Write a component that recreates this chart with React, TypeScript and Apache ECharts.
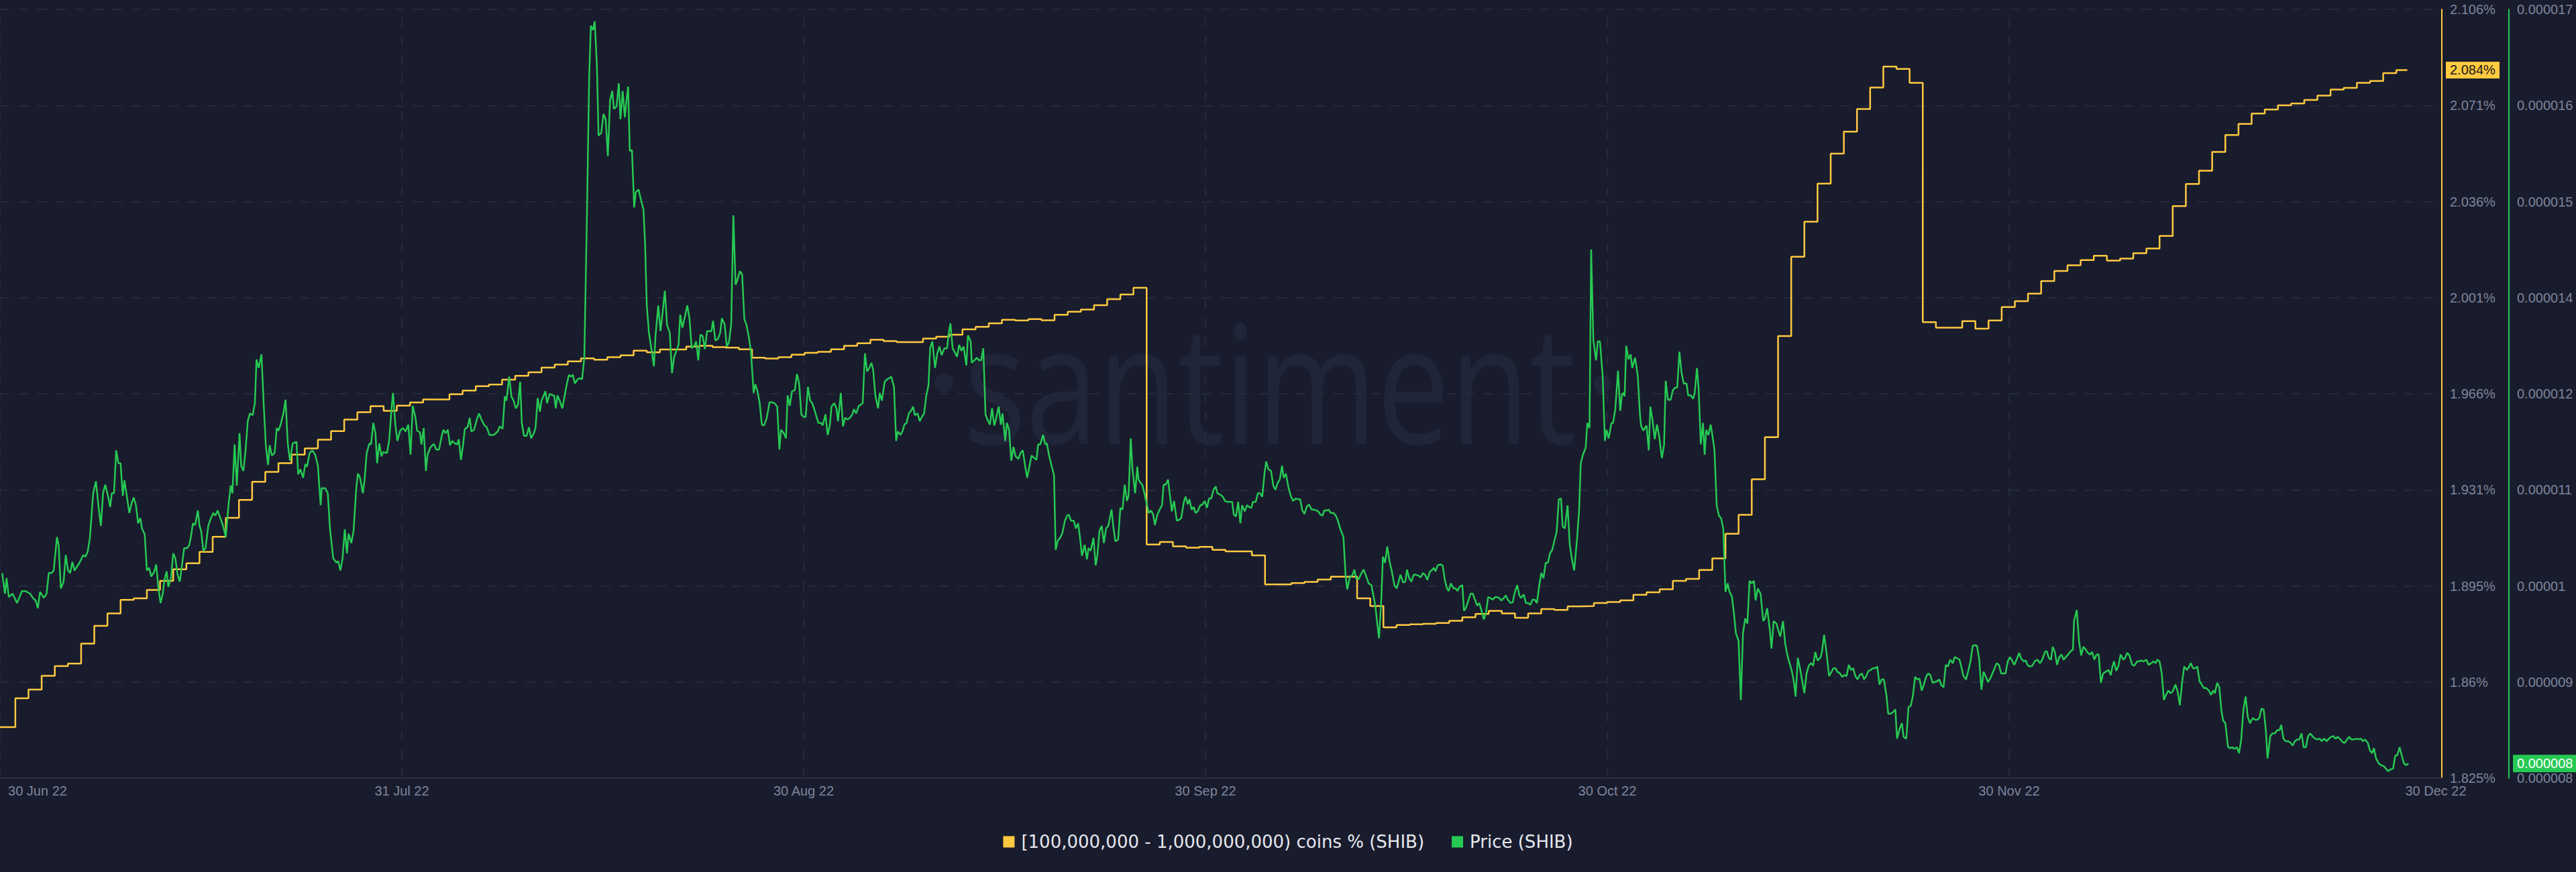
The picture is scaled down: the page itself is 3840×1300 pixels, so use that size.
import React, { useEffect, useRef } from "react";
import * as echarts from "echarts";

const CHART_W = 3840;
const CHART_H = 1300;

// x axis: hours since the start of 30 Jun 22
const DATE_LABELS = ["30 Jun 22", "31 Jul 22", "30 Aug 22", "30 Sep 22", "30 Oct 22", "30 Nov 22", "30 Dec 22"];
const X_AXIS_END_HOUR = 4455;
const DATE_LABEL_STEP_HOURS = 733.1;

// y axis tick labels (left = holdings %, right = price USD)
const HOLDING_TICK_LABELS = ["1.825", "1.86", "1.895", "1.931", "1.966", "2.001", "2.036", "2.071", "2.106"];
const PRICE_TICK_LABELS = ["0.000008", "0.000009", "0.00001", "0.000011", "0.000012", "0.000014", "0.000015", "0.000016", "0.000017"];
const HOLDING_AXIS_MIN = 1.825252;
const HOLDING_AXIS_STEP = 0.035101;
const PRICE_AXIS_MIN = 7.99; // micro USD
const PRICE_AXIS_STEP = 1.12; // micro USD

// [100,000,000 - 1,000,000,000) coins % — one value per day
const HOLDING_FIRST_UPDATE_HOUR = 28;
const HOLDING_END_HOUR = 4392;
const HOLDING_PCT = [
  1.8439, 1.8544, 1.8576, 1.8626, 1.8662, 1.8671, 1.8744, 1.8809, 1.8854, 1.8904,
  1.8909, 1.894, 1.8973, 1.9015, 1.9037, 1.9079, 1.9134, 1.9203, 1.9269, 1.9335,
  1.9371, 1.9403, 1.9434, 1.9457, 1.9489, 1.952, 1.9562, 1.9589, 1.9611, 1.9594,
  1.9613, 1.9625, 1.9636, 1.9636, 1.9655, 1.9668, 1.9684, 1.969, 1.9708, 1.9722,
  1.9735, 1.9752, 1.9763, 1.9775, 1.9786, 1.9781, 1.979, 1.9797, 1.9814, 1.9808,
  1.9818, 1.9818, 1.9829, 1.9832, 1.9827, 1.9825, 1.9819, 1.9788, 1.9785, 1.979,
  1.9799, 1.9806, 1.981, 1.9819, 1.9832, 1.9841, 1.9854, 1.9849, 1.9845, 1.9845,
  1.9858, 1.9865, 1.9872, 1.9892, 1.9901, 1.9914, 1.9927, 1.9924, 1.9929, 1.9925,
  1.9945, 1.9956, 1.9964, 1.998, 2.0002, 2.0019, 2.0044, 1.9106, 1.9115, 1.9099,
  1.9094, 1.9097, 1.9086, 1.9081, 1.9081, 1.9066, 1.896, 1.896, 1.8965, 1.8969,
  1.8978, 1.8988, 1.8988, 1.8909, 1.8881, 1.8803, 1.8812, 1.8814, 1.8816, 1.8819,
  1.8827, 1.884, 1.8852, 1.8863, 1.8854, 1.8838, 1.8854, 1.887, 1.8867, 1.888,
  1.8881, 1.8892, 1.8896, 1.8902, 1.8922, 1.8931, 1.8942, 1.8973, 1.898, 1.9013,
  1.9055, 1.9145, 1.9214, 1.9344, 1.9498, 1.9867, 2.0157, 2.0285, 2.0424, 2.0534,
  2.0614, 2.0697, 2.0775, 2.0852, 2.0843, 2.0792, 1.9918, 1.9898, 1.9898, 1.9922,
  1.9894, 1.9924, 1.9973, 1.9995, 2.0022, 2.0068, 2.0105, 2.0126, 2.0145, 2.0161,
  2.0143, 2.015, 2.017, 2.0187, 2.0233, 2.0342, 2.0423, 2.0471, 2.054, 2.0602,
  2.0642, 2.068, 2.0695, 2.071, 2.0717, 2.073, 2.0746, 2.0768, 2.0774, 2.0792,
  2.0799, 2.0828, 2.0839,
];

// Price (SHIB) in micro USD: [hour, price]
const PRICE_MICRO_USD: [number, number][] = [
  [4,10.38],[9,10.14],[12,10.32],[16,10.10],[23,10.14],[31,10.03],[35,10.09],[40,10.17],[46,10.17],[55,10.14],[60,10.09],[65,10.06],[69,9.97],[73,10.16],[80,10.09],[85,10.14],[89,10.38],[94,10.38],[98,10.41],[104,10.80],[107,10.70],[111,10.20],[116,10.28],[120,10.59],[124,10.41],[128,10.38],[132,10.51],[136,10.41],[145,10.50],[152,10.59],[156,10.57],[160,10.63],[164,10.79],[167,11.05],[170,11.31],[175,11.45],[180,11.14],[184,10.93],[188,11.31],[192,11.41],[197,11.28],[201,11.15],[204,11.31],[208,11.31],[212,11.81],[216,11.66],[220,11.66],[224,11.28],[227,11.46],[232,11.25],[236,11.08],[240,11.19],[244,11.26],[248,11.17],[252,10.96],[256,11.02],[259,10.90],[264,10.83],[268,10.41],[272,10.44],[276,10.34],[281,10.39],[285,10.48],[289,10.20],[293,10.03],[297,10.14],[300,10.30],[304,10.40],[307,10.22],[312,10.32],[316,10.61],[320,10.55],[324,10.36],[328,10.28],[333,10.52],[336,10.67],[341,10.67],[345,10.70],[348,10.79],[352,10.96],[356,10.94],[361,11.11],[364,10.93],[367,10.87],[371,10.64],[375,10.67],[380,10.93],[383,10.99],[389,11.08],[393,11.05],[397,11.11],[402,11.02],[407,10.93],[412,10.80],[417,11.18],[421,11.40],[424,11.31],[428,11.88],[432,11.40],[437,12.01],[440,11.63],[444,11.57],[448,11.81],[452,12.15],[456,12.24],[461,12.22],[465,12.36],[468,12.87],[472,12.77],[477,12.93],[481,12.36],[485,11.87],[489,11.64],[492,11.87],[496,11.75],[501,11.78],[505,12.07],[508,12.04],[512,12.11],[517,12.24],[521,12.40],[525,11.89],[529,11.69],[534,11.89],[541,11.91],[544,11.53],[548,11.59],[553,11.49],[557,11.65],[560,11.62],[565,11.78],[570,11.81],[575,11.76],[580,11.63],[585,11.17],[587,11.37],[593,11.37],[598,11.31],[602,10.90],[608,10.55],[614,10.50],[617,10.52],[621,10.41],[625,10.55],[629,10.89],[633,10.61],[636,10.84],[641,10.73],[645,10.87],[650,11.37],[653,11.54],[657,11.49],[662,11.31],[665,11.46],[669,11.78],[674,11.89],[677,11.88],[681,12.13],[685,12.01],[688,11.66],[692,11.89],[696,11.74],[699,11.79],[706,11.78],[710,11.92],[714,12.27],[717,12.48],[721,12.13],[725,11.92],[730,12.04],[735,12.07],[740,12.03],[745,12.11],[749,11.76],[753,12.33],
  [758,12.19],[761,12.04],[766,12.02],[769,11.88],[773,12.07],[777,11.57],[780,11.76],[785,11.84],[790,11.88],[792,11.88],[796,11.82],[801,11.82],[806,11.98],[809,12.05],[813,12.01],[817,12.05],[821,11.87],[825,11.92],[830,11.89],[834,11.88],[837,11.94],[841,11.70],[845,11.88],[848,12.06],[853,12.08],[857,12.19],[860,12.03],[865,12.05],[870,12.17],[874,12.24],[879,12.16],[884,12.10],[888,12.08],[893,11.99],[901,11.99],[908,12.03],[912,12.09],[917,12.06],[921,12.44],[924,12.39],[929,12.67],[933,12.44],[937,12.39],[941,12.30],[945,12.34],[949,12.61],[952,12.13],[956,11.98],[961,11.98],[965,12.08],[969,11.95],[974,12.01],[977,12.07],[981,12.42],[985,12.26],[988,12.39],[992,12.45],[995,12.50],[998,12.36],[1003,12.47],[1008,12.45],[1011,12.45],[1014,12.30],[1017,12.45],[1021,12.39],[1026,12.30],[1030,12.44],[1034,12.58],[1038,12.69],[1042,12.67],[1045,12.69],[1049,12.59],[1054,12.64],[1058,12.65],[1062,12.64],[1066,12.89],[1068,13.56],[1071,14.61],[1073,15.42],[1075,16.18],[1078,16.76],[1082,16.71],[1085,16.81],[1089,16.30],[1092,15.48],[1097,15.51],[1101,15.73],[1105,15.67],[1109,15.24],[1113,15.89],[1117,16.00],[1120,15.79],[1125,15.82],[1129,16.09],[1132,15.67],[1136,16.00],[1140,15.69],[1143,15.89],[1146,16.05],[1149,15.30],[1153,15.31],[1157,14.64],[1160,14.82],[1165,14.85],[1169,14.74],[1174,14.62],[1177,14.20],[1180,13.50],[1184,13.18],[1189,12.97],[1193,12.79],[1196,13.15],[1201,13.50],[1205,13.20],[1209,13.42],[1213,13.67],[1217,13.27],[1222,13.18],[1226,12.71],[1230,12.90],[1234,12.97],[1238,13.04],[1241,13.39],[1245,13.24],[1250,13.38],[1254,13.50],[1258,13.34],[1262,13.00],[1267,13.03],[1270,13.08],[1274,12.86],[1278,13.16],[1282,13.14],[1286,12.99],[1290,13.20],[1295,13.20],[1298,13.20],[1301,13.32],[1305,13.09],[1310,13.11],[1314,13.18],[1317,13.35],[1322,13.28],[1326,13.02],[1330,13.07],[1334,13.28],[1338,14.55],[1342,13.74],[1345,13.79],[1350,13.90],[1354,13.86],[1358,13.34],[1362,13.27],[1366,13.14],[1370,12.97],[1375,12.48],[1378,12.58],[1382,12.50],[1386,12.36],[1390,12.11],[1394,12.10],[1399,12.19],[1404,12.37],[1408,12.37],[1413,12.36],[1418,12.32],[1422,11.82],[1425,12.05],[1430,12.01],[1434,11.95],[1437,12.45],[1441,12.33],[1445,12.50],[1450,12.51],[1454,12.70],[1458,12.59],[1462,12.23],[1466,12.20],[1470,12.20],[1474,12.55],[1478,12.39],[1482,12.36],[1487,12.26],[1493,12.13],
  [1498,12.13],[1501,12.10],[1506,12.23],[1510,11.99],[1514,12.10],[1517,12.32],[1522,12.36],[1526,12.30],[1529,12.15],[1534,12.48],[1538,12.09],[1542,12.19],[1546,12.17],[1551,12.19],[1555,12.23],[1558,12.29],[1562,12.24],[1567,12.33],[1570,12.34],[1574,12.36],[1578,12.94],[1582,12.73],[1586,12.77],[1590,12.83],[1593,12.75],[1597,12.45],[1602,12.30],[1605,12.48],[1609,12.39],[1614,12.61],[1619,12.64],[1622,12.65],[1626,12.67],[1631,12.55],[1635,11.92],[1638,12.03],[1643,11.99],[1647,12.04],[1650,12.11],[1654,12.13],[1658,12.24],[1662,12.27],[1666,12.32],[1669,12.22],[1674,12.24],[1678,12.15],[1682,12.20],[1686,12.24],[1690,12.45],[1694,12.57],[1697,13.00],[1701,13.08],[1706,12.77],[1710,12.94],[1714,13.02],[1718,12.92],[1723,13.00],[1728,13.00],[1731,13.18],[1734,13.29],[1738,13.00],[1743,12.94],[1746,12.90],[1750,13.04],[1754,12.97],[1758,13.02],[1763,12.80],[1766,13.15],[1771,13.08],[1773,12.83],[1778,12.86],[1782,12.89],[1786,12.86],[1790,12.86],[1794,13.00],[1798,12.23],[1802,12.16],[1806,12.11],[1810,12.30],[1814,12.10],[1817,12.17],[1822,12.32],[1826,12.11],[1829,12.24],[1834,11.92],[1837,12.13],[1841,12.05],[1845,11.69],[1849,11.85],[1853,11.74],[1858,11.71],[1862,11.78],[1866,11.81],[1870,11.64],[1874,11.49],[1878,11.62],[1882,11.75],[1887,11.72],[1891,11.70],[1894,11.88],[1898,11.88],[1903,11.99],[1907,11.88],[1910,11.89],[1914,11.75],[1919,11.62],[1923,11.52],[1926,10.65],[1930,10.76],[1934,10.79],[1938,10.84],[1943,10.99],[1947,11.05],[1950,11.06],[1954,10.99],[1959,10.99],[1963,10.90],[1967,10.96],[1971,10.76],[1974,10.58],[1979,10.71],[1983,10.54],[1986,10.67],[1990,10.64],[1995,10.79],[1999,10.47],[2002,10.58],[2006,10.87],[2010,10.93],[2014,10.73],[2018,10.90],[2022,10.93],[2028,11.12],[2031,10.93],[2035,10.75],[2040,10.77],[2044,11.14],[2048,11.12],[2052,11.41],[2056,11.22],[2059,11.28],[2063,11.95],[2066,11.60],[2071,11.31],[2075,11.62],[2077,11.47],[2081,11.43],[2084,11.41],[2088,11.31],[2092,11.19],[2096,11.08],[2100,11.11],[2104,11.06],[2107,10.94],[2111,11.05],[2115,11.11],[2120,11.17],[2123,11.41],[2127,11.41],[2131,11.47],[2134,11.31],[2138,11.10],[2142,11.22],[2147,10.99],[2151,11.00],[2155,11.02],[2160,11.21],[2163,11.27],[2167,11.18],[2170,11.24],[2174,11.12],[2178,11.15],[2181,11.08],[2185,11.10],[2190,11.17],[2194,11.18],[2198,11.22],[2202,11.14],[2206,11.25],[2210,11.25],[2214,11.35],[2218,11.39],[2221,11.31],[2227,11.29],
  [2231,11.27],[2235,11.22],[2239,11.21],[2244,11.21],[2248,11.21],[2251,11.06],[2255,11.04],[2259,11.21],[2263,10.96],[2266,11.17],[2271,11.10],[2275,11.17],[2279,11.15],[2283,11.14],[2286,11.21],[2291,11.21],[2295,11.31],[2299,11.31],[2303,11.27],[2307,11.54],[2310,11.68],[2314,11.59],[2319,11.57],[2323,11.40],[2327,11.35],[2331,11.43],[2335,11.47],[2339,11.63],[2342,11.49],[2346,11.54],[2351,11.37],[2355,11.28],[2359,11.22],[2364,11.25],[2368,11.24],[2372,11.24],[2376,11.11],[2380,11.07],[2384,11.15],[2388,11.18],[2393,11.12],[2397,11.12],[2401,11.11],[2405,11.10],[2409,11.06],[2413,11.05],[2416,11.11],[2421,11.11],[2424,11.12],[2428,11.08],[2433,11.08],[2437,11.05],[2441,10.99],[2445,10.90],[2451,10.80],[2455,10.35],[2458,10.19],[2463,10.34],[2467,10.35],[2471,10.42],[2474,10.32],[2479,10.31],[2484,10.38],[2488,10.42],[2492,10.35],[2497,10.26],[2502,10.24],[2505,10.14],[2509,10.01],[2513,9.78],[2516,9.62],[2520,10.06],[2523,10.57],[2527,10.50],[2531,10.69],[2535,10.52],[2539,10.41],[2544,10.24],[2548,10.20],[2551,10.26],[2555,10.36],[2560,10.27],[2564,10.28],[2567,10.42],[2571,10.32],[2575,10.28],[2579,10.36],[2583,10.36],[2588,10.35],[2592,10.33],[2596,10.38],[2600,10.36],[2604,10.30],[2609,10.40],[2612,10.41],[2616,10.44],[2619,10.40],[2623,10.47],[2628,10.48],[2632,10.47],[2636,10.30],[2640,10.20],[2643,10.17],[2647,10.26],[2652,10.20],[2656,10.20],[2659,10.17],[2663,10.22],[2668,10.24],[2671,9.94],[2675,9.98],[2679,10.06],[2683,10.14],[2687,10.14],[2691,10.07],[2695,10.00],[2699,10.03],[2703,9.94],[2707,9.84],[2711,9.91],[2715,10.10],[2719,10.09],[2723,10.07],[2728,10.10],[2731,10.10],[2735,10.09],[2739,10.06],[2744,10.09],[2747,10.12],[2751,10.07],[2756,10.03],[2760,10.04],[2763,10.14],[2768,10.24],[2772,10.12],[2775,10.09],[2780,10.13],[2784,10.03],[2788,10.03],[2792,10.01],[2796,10.07],[2800,10.07],[2804,10.03],[2808,10.22],[2812,10.38],[2816,10.32],[2820,10.50],[2824,10.50],[2828,10.61],[2832,10.65],[2836,10.76],[2840,10.86],[2844,11.24],[2848,11.25],[2851,10.92],[2855,10.90],[2860,11.17],[2864,10.71],[2868,10.54],[2872,10.41],[2877,10.76],[2881,11.11],[2884,11.66],[2888,11.76],[2893,11.84],[2896,12.13],[2900,12.07],[2903,14.15],[2907,13.09],[2912,12.86],[2915,13.08],[2919,13.08],[2924,12.68],[2928,11.92],[2931,12.05],[2935,11.95],[2940,12.13],[2943,12.13],[2947,12.29],[2952,12.74],[2956,12.27],[2959,12.46],[2962,12.48],
  [2964,12.44],[2967,13.03],[2971,12.87],[2975,12.93],[2978,12.77],[2983,12.89],[2988,12.68],[2992,12.23],[2994,12.10],[2998,12.04],[3001,12.07],[3004,12.10],[3008,11.81],[3011,12.32],[3015,12.16],[3019,11.94],[3023,12.11],[3027,11.98],[3032,11.72],[3036,11.87],[3039,12.62],[3043,12.40],[3048,12.40],[3052,12.51],[3056,12.54],[3060,12.54],[3064,12.96],[3068,12.71],[3072,12.59],[3077,12.59],[3080,12.45],[3085,12.45],[3089,12.41],[3092,12.48],[3096,12.77],[3099,12.54],[3103,11.88],[3107,12.13],[3110,11.76],[3113,12.05],[3117,11.99],[3121,12.11],[3125,11.95],[3128,11.81],[3132,11.17],[3136,11.05],[3140,11.02],[3144,10.90],[3148,10.16],[3152,10.26],[3155,10.17],[3160,10.10],[3164,9.88],[3167,9.68],[3172,9.59],[3176,8.90],[3180,9.68],[3184,9.85],[3188,9.79],[3192,10.29],[3196,10.26],[3200,10.29],[3203,10.06],[3207,10.20],[3212,10.14],[3217,9.82],[3220,9.85],[3224,9.97],[3229,9.72],[3232,9.50],[3236,9.82],[3241,9.79],[3245,9.70],[3248,9.64],[3253,9.82],[3257,9.56],[3261,9.42],[3265,9.33],[3269,9.24],[3273,9.11],[3276,8.94],[3280,9.39],[3284,9.27],[3288,9.12],[3292,8.98],[3296,9.21],[3300,9.30],[3304,9.33],[3308,9.30],[3312,9.46],[3316,9.36],[3321,9.39],[3324,9.46],[3328,9.66],[3333,9.42],[3337,9.18],[3340,9.21],[3345,9.27],[3349,9.27],[3352,9.23],[3357,9.21],[3361,9.17],[3365,9.19],[3369,9.18],[3373,9.31],[3377,9.25],[3381,9.27],[3385,9.18],[3389,9.14],[3393,9.19],[3397,9.21],[3401,9.14],[3405,9.18],[3409,9.24],[3413,9.25],[3417,9.27],[3421,9.27],[3425,9.29],[3429,9.08],[3433,9.14],[3437,9.14],[3442,8.94],[3445,8.74],[3449,8.74],[3454,8.76],[3458,8.79],[3461,8.45],[3466,8.57],[3470,8.63],[3473,8.47],[3478,8.45],[3482,8.82],[3486,8.83],[3490,8.95],[3494,9.17],[3498,9.14],[3502,9.15],[3506,9.01],[3510,9.08],[3514,9.17],[3518,9.21],[3522,9.19],[3526,9.10],[3530,9.11],[3534,9.12],[3538,9.14],[3542,9.07],[3546,9.05],[3550,9.31],[3554,9.29],[3558,9.37],[3563,9.33],[3566,9.40],[3570,9.39],[3575,9.37],[3579,9.27],[3582,9.18],[3587,9.14],[3591,9.24],[3595,9.35],[3599,9.53],[3603,9.54],[3607,9.53],[3611,9.37],[3615,9.02],[3619,9.23],[3623,9.17],[3627,9.11],[3631,9.15],[3635,9.21],[3639,9.27],[3643,9.33],[3647,9.31],[3651,9.21],[3655,9.21],[3659,9.21],[3663,9.35],[3667,9.40],[3671,9.36],[3675,9.31],[3679,9.37],[3684,9.45],[3687,9.39],[3692,9.35],[3696,9.36],
  [3699,9.31],[3703,9.29],[3708,9.30],[3712,9.35],[3717,9.37],[3722,9.33],[3726,9.37],[3731,9.46],[3734,9.47],[3738,9.39],[3742,9.37],[3745,9.52],[3749,9.46],[3753,9.31],[3757,9.40],[3761,9.43],[3765,9.37],[3769,9.40],[3773,9.43],[3778,9.47],[3782,9.49],[3784,9.82],[3789,9.95],[3793,9.59],[3797,9.42],[3801,9.52],[3805,9.49],[3809,9.45],[3813,9.43],[3817,9.46],[3821,9.37],[3825,9.43],[3829,9.43],[3833,9.10],[3837,9.21],[3842,9.23],[3847,9.25],[3851,9.19],[3854,9.29],[3857,9.35],[3861,9.24],[3865,9.30],[3869,9.43],[3874,9.37],[3877,9.39],[3881,9.45],[3885,9.42],[3890,9.31],[3894,9.30],[3899,9.35],[3902,9.35],[3906,9.36],[3911,9.35],[3916,9.37],[3920,9.31],[3925,9.33],[3929,9.35],[3933,9.33],[3936,9.37],[3940,9.35],[3944,9.21],[3948,8.90],[3951,8.95],[3956,9.01],[3960,8.98],[3964,9.00],[3969,9.08],[3973,9.00],[3977,8.84],[3981,9.10],[3985,9.29],[3990,9.25],[3994,9.29],[3997,9.33],[4001,9.27],[4005,9.27],[4009,9.29],[4013,9.12],[4017,9.08],[4021,9.04],[4025,9.04],[4030,9.01],[4034,8.96],[4038,9.01],[4041,8.98],[4045,9.10],[4049,9.05],[4053,8.77],[4056,8.66],[4060,8.63],[4065,8.35],[4069,8.34],[4073,8.35],[4076,8.33],[4081,8.35],[4085,8.28],[4089,8.44],[4093,8.79],[4097,8.94],[4101,8.70],[4105,8.63],[4110,8.69],[4114,8.67],[4118,8.67],[4122,8.69],[4126,8.80],[4130,8.79],[4134,8.54],[4137,8.22],[4142,8.48],[4146,8.51],[4150,8.51],[4155,8.55],[4159,8.55],[4162,8.61],[4166,8.45],[4170,8.42],[4175,8.42],[4179,8.40],[4183,8.37],[4187,8.42],[4191,8.44],[4195,8.44],[4199,8.51],[4203,8.35],[4207,8.35],[4211,8.48],[4215,8.51],[4220,8.47],[4224,8.45],[4228,8.44],[4232,8.45],[4236,8.42],[4240,8.45],[4245,8.42],[4249,8.45],[4253,8.47],[4257,8.48],[4261,8.45],[4265,8.47],[4270,8.44],[4274,8.41],[4278,8.40],[4282,8.44],[4286,8.47],[4290,8.44],[4295,8.44],[4299,8.45],[4303,8.44],[4307,8.45],[4311,8.42],[4315,8.44],[4320,8.40],[4324,8.31],[4328,8.28],[4331,8.34],[4335,8.22],[4340,8.16],[4344,8.14],[4349,8.13],[4353,8.10],[4357,8.07],[4361,8.09],[4366,8.10],[4370,8.25],[4374,8.26],[4378,8.35],[4382,8.25],[4386,8.16],[4390,8.14],[4394,8.16],
];

const SERIES_NAMES = ["[100,000,000 - 1,000,000,000) coins % (SHIB)", "Price (SHIB)"];

const BG = "#191c2d";
const YELLOW = "#ffc940";
const GREEN = "#26c953";
const AXIS_TEXT = "#7d859c";
const GRID_LINE = "#252a3b";
const WATERMARK = "#21253a";
const FONT = "'Liberation Sans', Arial, sans-serif";
const GRID = { left: 0, right: 200, top: 14, bottom: 140 };

export default function App() {
  const ref = useRef<HTMLDivElement>(null);

  useEffect(() => {
    document.body.style.margin = "0";
    const el = ref.current!;
    const chart = echarts.init(el, undefined, { renderer: "svg" });

    const holdNorm = (v: number) => (v - HOLDING_AXIS_MIN) / HOLDING_AXIS_STEP;
    const priceNorm = (p: number) => (p - PRICE_AXIS_MIN) / PRICE_AXIS_STEP;

    const holdingData: number[][] = HOLDING_PCT.map((v, k) => [
      k === 0 ? 0 : HOLDING_FIRST_UPDATE_HOUR + 24 * (k - 1),
      holdNorm(v),
    ]);
    const lastHolding = HOLDING_PCT[HOLDING_PCT.length - 1];
    holdingData.push([HOLDING_END_HOUR, holdNorm(lastHolding)]);
    const priceData = PRICE_MICRO_USD.map(([h, p]) => [h, priceNorm(p)]);
    const lastPrice = PRICE_MICRO_USD[PRICE_MICRO_USD.length - 1][1];

    const labelBase = { color: AXIS_TEXT, fontSize: 20, fontFamily: FONT };

    chart.setOption({
      animation: false,
      backgroundColor: BG,
      textStyle: { fontFamily: FONT },
      grid: { ...GRID, containLabel: false },
      legend: {
        data: SERIES_NAMES,
        left: "center",
        top: 1237,
        icon: "rect",
        itemWidth: 17,
        itemHeight: 17,
        itemGap: 41,
        selectedMode: false,
        textStyle: { color: "#e6e8ef", fontSize: 26, fontFamily: "'DejaVu Sans', sans-serif", padding: [0, 0, 0, 5] },
      },
      xAxis: {
        type: "value",
        min: 0,
        max: X_AXIS_END_HOUR,
        interval: DATE_LABEL_STEP_HOURS,
        axisLine: { show: true, onZero: false, lineStyle: { color: "#2a2e41", width: 2 } },
        axisTick: { show: false },
        splitLine: { show: false },
        axisLabel: {
          ...labelBase,
          margin: 9,
          showMinLabel: true,
          showMaxLabel: true,
          formatter: (v: number) => {
            if (Math.abs(v - X_AXIS_END_HOUR) < 1e-6) return `{last|${DATE_LABELS[6]}}`;
            const i = Math.round(v / DATE_LABEL_STEP_HOURS);
            if (i === 0) return `{first|${DATE_LABELS[0]}}`;
            if (i >= 6) return "";
            return DATE_LABELS[i];
          },
          rich: {
            first: { ...labelBase, padding: [0, 0, 0, 112] },
            last: { ...labelBase, padding: [0, 18, 0, 0] },
          },
        },
      },
      yAxis: [
        {
          type: "value",
          position: "right",
          min: 0,
          max: 8,
          interval: 1,
          axisLine: { show: true, onZero: false, lineStyle: { color: YELLOW, width: 2 } },
          axisTick: { show: false },
          axisLabel: { ...labelBase, margin: 12, formatter: (v: number) => HOLDING_TICK_LABELS[Math.round(v)] + "%" },
          splitLine: { show: true, lineStyle: { color: GRID_LINE, width: 2, type: [14, 14] } },
        },
        {
          type: "value",
          position: "right",
          offset: 100,
          min: 0,
          max: 8,
          interval: 1,
          axisLine: { show: true, onZero: false, lineStyle: { color: GREEN, width: 2 } },
          axisTick: { show: false },
          axisLabel: { ...labelBase, margin: 12, formatter: (v: number) => PRICE_TICK_LABELS[Math.round(v)] },
          splitLine: { show: false },
        },
      ],
      series: [
        {
          name: SERIES_NAMES[0],
          type: "line",
          yAxisIndex: 0,
          step: "end",
          data: holdingData,
          showSymbol: false,
          symbol: "none",
          lineStyle: { color: YELLOW, width: 2.5 },
          itemStyle: { color: YELLOW },
          z: 3,
          markLine: {
            silent: true,
            symbol: ["none", "none"],
            z: 1,
            label: { show: false },
            lineStyle: { color: GRID_LINE, width: 2, type: [14, 14] },
            data: [0, 1, 2, 3, 4, 5].map((i) => ({ xAxis: i * DATE_LABEL_STEP_HOURS })),
          },
        },
        {
          name: SERIES_NAMES[1],
          type: "line",
          yAxisIndex: 1,
          data: priceData,
          showSymbol: false,
          symbol: "none",
          lineStyle: { color: GREEN, width: 2.5 },
          itemStyle: { color: GREEN },
          z: 4,
        },
      ],
    });

    const axisX = CHART_W - GRID.right;
    const yHold = chart.convertToPixel({ yAxisIndex: 0 } as any, holdNorm(lastHolding)) as number;
    const yPrice = chart.convertToPixel({ yAxisIndex: 1 } as any, priceNorm(lastPrice)) as number;

    chart.setOption({
      graphic: [
        {
          type: "text",
          x: 1437,
          y: 567,
          scaleX: 0.79,
          z: -10,
          silent: true,
          style: {
            text: "santiment",
            fill: WATERMARK,
            font: "245px 'Open Sans', sans-serif",
            textAlign: "left",
            textVerticalAlign: "middle",
          },
        },
        { type: "circle", z: -10, silent: true, shape: { cx: 1407, cy: 571, r: 14 }, style: { fill: WATERMARK } },
        { type: "circle", z: -10, silent: true, shape: { cx: 2389, cy: 573, r: 13 }, style: { fill: WATERMARK } },
        {
          type: "rect",
          z: 20,
          shape: { x: axisX + 6, y: yHold - 12.5, width: 80, height: 25 },
          style: { fill: YELLOW },
        },
        {
          type: "text",
          z: 21,
          x: axisX + 12,
          y: yHold,
          style: {
            text: lastHolding.toFixed(3) + "%",
            fill: "#1a1a1a",
            font: `20px ${FONT}`,
            textAlign: "left",
            textVerticalAlign: "middle",
          },
        },
        {
          type: "rect",
          z: 20,
          shape: { x: axisX + 106, y: yPrice - 13, width: 94, height: 26 },
          style: { fill: GREEN },
        },
        {
          type: "text",
          z: 21,
          x: axisX + 112,
          y: yPrice,
          style: {
            text: (lastPrice * 1e-6).toFixed(6),
            fill: "#ffffff",
            font: `20px ${FONT}`,
            textAlign: "left",
            textVerticalAlign: "middle",
          },
        },
      ],
    });

    return () => chart.dispose();
  }, []);

  return (
    <div
      ref={ref}
      style={{ position: "absolute", left: 0, top: 0, width: CHART_W, height: CHART_H, background: BG }}
    />
  );
}
